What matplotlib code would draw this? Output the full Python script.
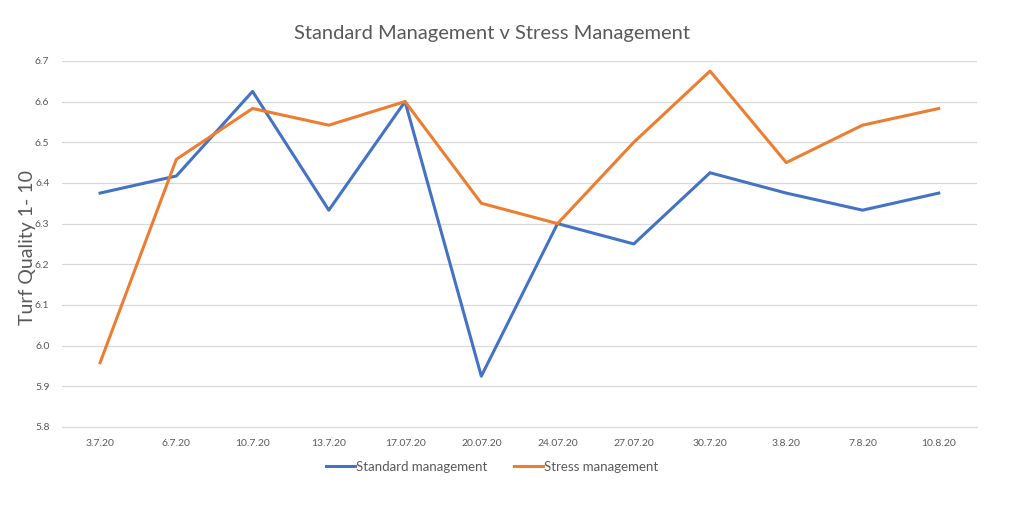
import matplotlib.pyplot as plt
import numpy as np

plt.rcParams['font.family'] = ['Lato', 'DejaVu Sans']

dates = ['3.7.20', '6.7.20', '10.7.20', '13.7.20', '17.07.20', '20.07.20',
         '24.07.20', '27.07.20', '30.7.20', '3.8.20', '7.8.20', '10.8.20']
standard = [6.375, 6.417, 6.625, 6.333, 6.6, 5.925, 6.3, 6.25, 6.425, 6.375, 6.333, 6.375]
stress = [5.958, 6.458, 6.583, 6.542, 6.6, 6.35, 6.3, 6.5, 6.675, 6.45, 6.542, 6.583]

fig = plt.figure(figsize=(10.24, 5.16), dpi=100)
ax = fig.add_axes([0.0605, 0.1725, 0.8935, 0.7095])

x = np.arange(len(dates))
ax.plot(x, standard, color='#4472C4', lw=2.2, label='Standard management')
ax.plot(x, stress, color='#ED7D31', lw=2.2, label='Stress management')

ax.set_xlim(-0.5, len(dates) - 0.5)
ax.set_ylim(5.8, 6.7)
ax.set_yticks(np.arange(5.8, 6.71, 0.1))
ax.set_yticklabels(['%.1f' % v for v in np.arange(5.8, 6.71, 0.1)])
ax.set_xticks(x)
ax.set_xticklabels(dates)
ax.tick_params(axis='both', length=0, labelsize=7.5, colors='#595959')
ax.tick_params(axis='x', pad=9)
ax.tick_params(axis='y', pad=9)
ax.grid(axis='y', color='#d9d9d9', lw=0.9)
ax.set_axisbelow(True)
for s in ['top', 'right', 'left']:
    ax.spines[s].set_visible(False)
ax.spines['bottom'].set_color('#d9d9d9')

fig.text(0.027, 0.52, 'Turf Quality 1- 10', rotation=90, ha='center', va='center',
         fontsize=14, color='#595959')
fig.text(0.48, 0.936, 'Standard Management v Stress Management', ha='center',
         va='center', fontsize=14.5, color='#595959')

ax.legend(loc='center', bbox_to_anchor=(0.47, -0.108), ncol=2, frameon=False,
          fontsize=9.5, labelcolor='#595959', handlelength=2.2, handletextpad=0.1,
          columnspacing=2.0)

fig.savefig('out.png', dpi=100)
